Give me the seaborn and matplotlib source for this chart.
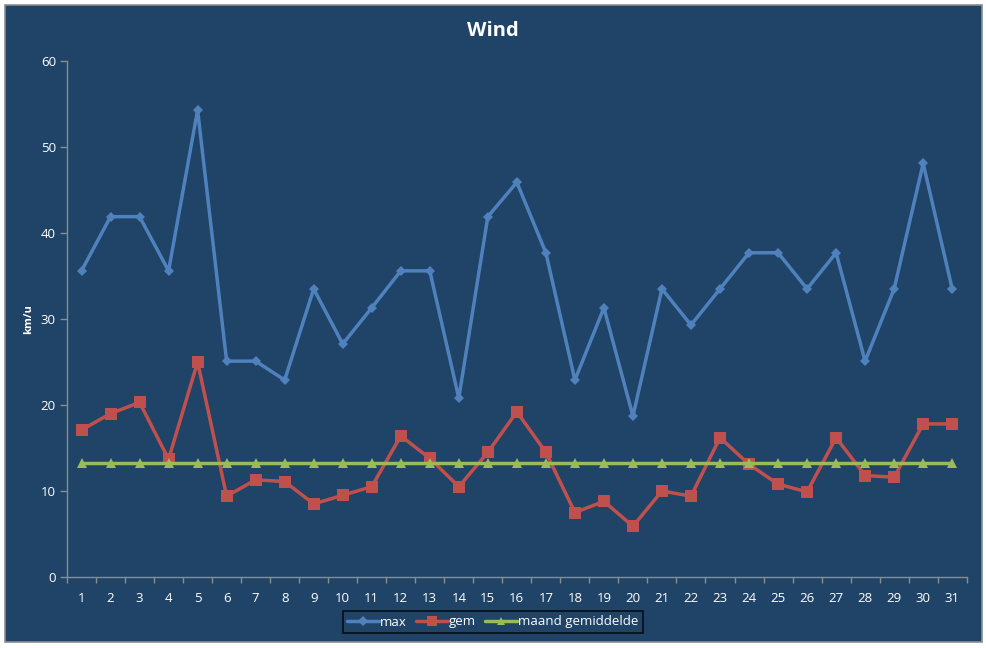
import matplotlib
matplotlib.use("Agg")
import matplotlib.pyplot as plt
from matplotlib.patches import Rectangle
from matplotlib.lines import Line2D
import numpy as np
import pandas as pd
import seaborn as sns

dagen = list(range(1, 32))
max_wind = [35.6, 41.9, 41.9, 35.6, 54.3, 25.1, 25.1, 22.9, 33.5, 27.1,
            31.3, 35.6, 35.6, 20.8, 41.9, 45.9, 37.7, 22.9, 31.3, 18.7,
            33.5, 29.3, 33.5, 37.7, 37.7, 33.5, 37.7, 25.1, 33.5, 48.1, 33.5]
gem_wind = [17.1, 19.0, 20.3, 13.7, 25.0, 9.4, 11.3, 11.1, 8.5, 9.5,
            10.5, 16.4, 13.8, 10.5, 14.5, 19.2, 14.5, 7.5, 8.8, 5.9,
            10.0, 9.4, 16.2, 13.1, 10.8, 9.9, 16.2, 11.8, 11.6, 17.8, 17.8]
maand_gem = [13.2] * 31

bg = "#1F4467"
c_max, c_gem, c_maand = "#4F81BD", "#C0504D", "#9BBB59"
axis_col = "#8C8C8C"

sns.set_style("white")
plt.rcParams["font.family"] = ["Open Sans", "DejaVu Sans"]

fig = plt.figure(figsize=(9.87, 6.48), dpi=100)
fig.patch.set_facecolor("white")
fig.patches.append(Rectangle((5 / 987, 1 - 642 / 648), 977 / 987, 637 / 648,
                             transform=fig.transFigure, facecolor=bg,
                             edgecolor="#8C8C8C", linewidth=1.2, zorder=-10))

ax = fig.add_axes([67 / 987, 1 - 577 / 648, (966.7 - 67) / 987, (577 - 61) / 648])
ax.set_facecolor("none")
ax.set_zorder(5)

df = pd.DataFrame({"dag": dagen, "max": max_wind, "gem": gem_wind,
                   "maand gemiddelde": maand_gem})

sns.lineplot(data=df, x="dag", y="max", ax=ax, color=c_max, lw=2.5,
             marker="D", markersize=5, markeredgewidth=0)
sns.lineplot(data=df, x="dag", y="gem", ax=ax, color=c_gem, lw=2.5,
             marker="s", markersize=8, markeredgewidth=0)
sns.lineplot(data=df, x="dag", y="maand gemiddelde", ax=ax, color=c_maand, lw=2.5,
             marker="^", markersize=7, markeredgewidth=0)

ax.set_xlim(0.5, 31.5)
ax.set_ylim(0, 60)
ax.set_yticks(range(0, 61, 10))
ax.set_xticks(dagen)
ax.set_xticks(np.arange(0.5, 32, 1), minor=True)
ax.tick_params(axis="x", which="major", bottom=False, length=0, pad=11,
               labelsize=9.5, colors="white")
ax.tick_params(axis="x", which="minor", bottom=True, length=4, width=1, color=axis_col)
ax.tick_params(axis="y", left=True, length=5, width=1, color=axis_col, labelsize=9.5,
               labelcolor="white", pad=3)

for s in ["top", "right"]:
    ax.spines[s].set_visible(False)
for s in ["left", "bottom"]:
    ax.spines[s].set_color(axis_col)
    ax.spines[s].set_linewidth(1)

ax.set_xlabel("")
ax.set_ylabel("km/u", color="white", fontsize=8, fontweight="bold", labelpad=5)

fig.text(493 / 987, 1 - 31 / 648, "Wind", color="white", fontsize=14.5,
         fontweight="bold", ha="center", va="center")

handles = [Line2D([], [], color=c_max, lw=2.5, marker="D", markersize=5, markeredgewidth=0),
           Line2D([], [], color=c_gem, lw=2.5, marker="s", markersize=7, markeredgewidth=0),
           Line2D([], [], color=c_maand, lw=2.5, marker="^", markersize=6, markeredgewidth=0)]
leg = fig.legend(handles, ["max", "gem", "maand gemiddelde"], ncol=3,
                 loc="center", bbox_to_anchor=(493 / 987, 1 - 622 / 648),
                 frameon=True, fancybox=False, facecolor=bg, edgecolor="black",
                 fontsize=9.5, handlelength=2.4, handletextpad=0.1, columnspacing=0.7,
                 borderpad=0.35, labelcolor="white")
leg.get_frame().set_linewidth(1.2)

fig.savefig("out.png", dpi=100, facecolor=fig.get_facecolor())
